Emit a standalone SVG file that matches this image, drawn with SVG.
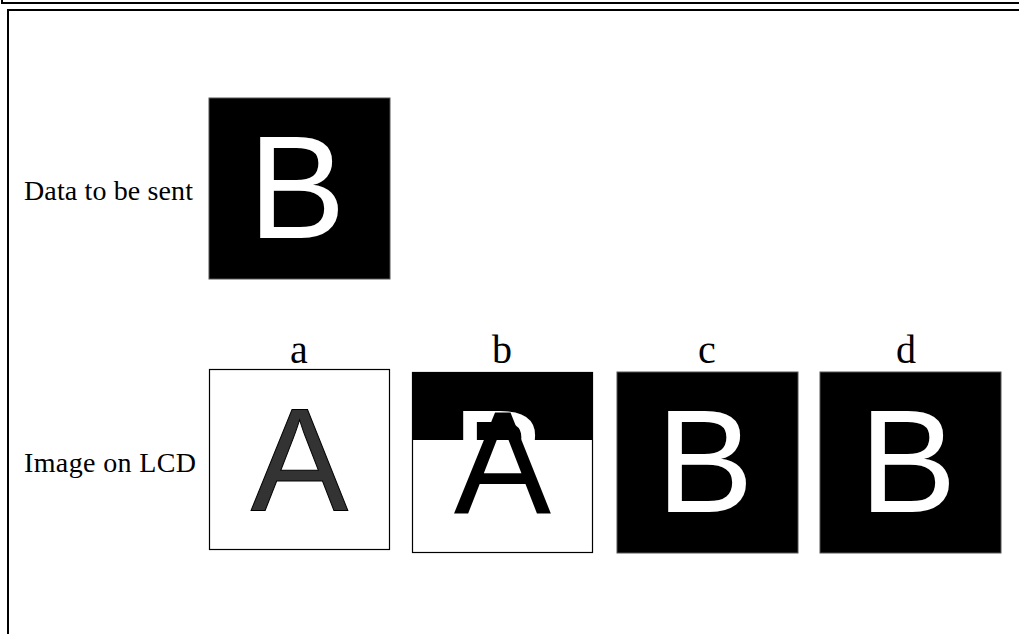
<svg xmlns="http://www.w3.org/2000/svg" width="1019" height="634" viewBox="0 0 1019 634">
<style>
.lbl{font-family:"Liberation Serif","Times New Roman",serif;font-size:28px;fill:#000}
.hdr{font-family:"Liberation Serif","Times New Roman",serif;font-size:40px;fill:#000;text-anchor:middle}
.big{font-family:"Liberation Sans",Arial,sans-serif;font-size:146px;text-anchor:middle}
.blk{fill:#000;stroke:#555;stroke-width:1}
.wht{fill:#fff;stroke:#000;stroke-width:1.2}
.frame{fill:none;stroke:#000;stroke-width:2}
</style>
<defs>
<clipPath id="topb"><rect x="412" y="372" width="181" height="68"/></clipPath>
</defs>
<g id="frame">
<path class="frame" d="M2,0 V3 H1019"/>
<path class="frame" d="M1019,10 H8 V634"/>
</g>
<g id="labels">
<text class="lbl" x="24" y="200" textLength="169">Data to be sent</text>
<text class="lbl" x="24" y="472" textLength="172">Image on LCD</text>
<text class="hdr" x="299" y="363">a</text>
<text class="hdr" x="502" y="363">b</text>
<text class="hdr" x="707" y="363">c</text>
<text class="hdr" x="906" y="363">d</text>
</g>
<g id="data">
<rect class="blk" x="209" y="98" width="181" height="181"/>
<text class="big" x="297" y="238" fill="#fff">B</text>
</g>
<g id="panel-a">
<rect class="wht" x="209.5" y="369.5" width="180" height="180"/>
<text class="big" x="299.5" y="511" fill="#333" stroke="#000" stroke-width="1">A</text>
</g>
<g id="panel-b">
<rect class="wht" x="412.5" y="372.5" width="180" height="180"/>
<rect x="412" y="372" width="181" height="68" fill="#000"/>
<text class="big" x="500" y="512" fill="#fff" clip-path="url(#topb)">B</text>
<text class="big" x="502.5" y="514" fill="#000">A</text>
</g>
<g id="panel-c">
<rect class="blk" x="617" y="372" width="181" height="181"/>
<text class="big" x="705" y="512" fill="#fff">B</text>
</g>
<g id="panel-d">
<rect class="blk" x="820" y="372" width="181" height="181"/>
<text class="big" x="908" y="512" fill="#fff">B</text>
</g>
</svg>
